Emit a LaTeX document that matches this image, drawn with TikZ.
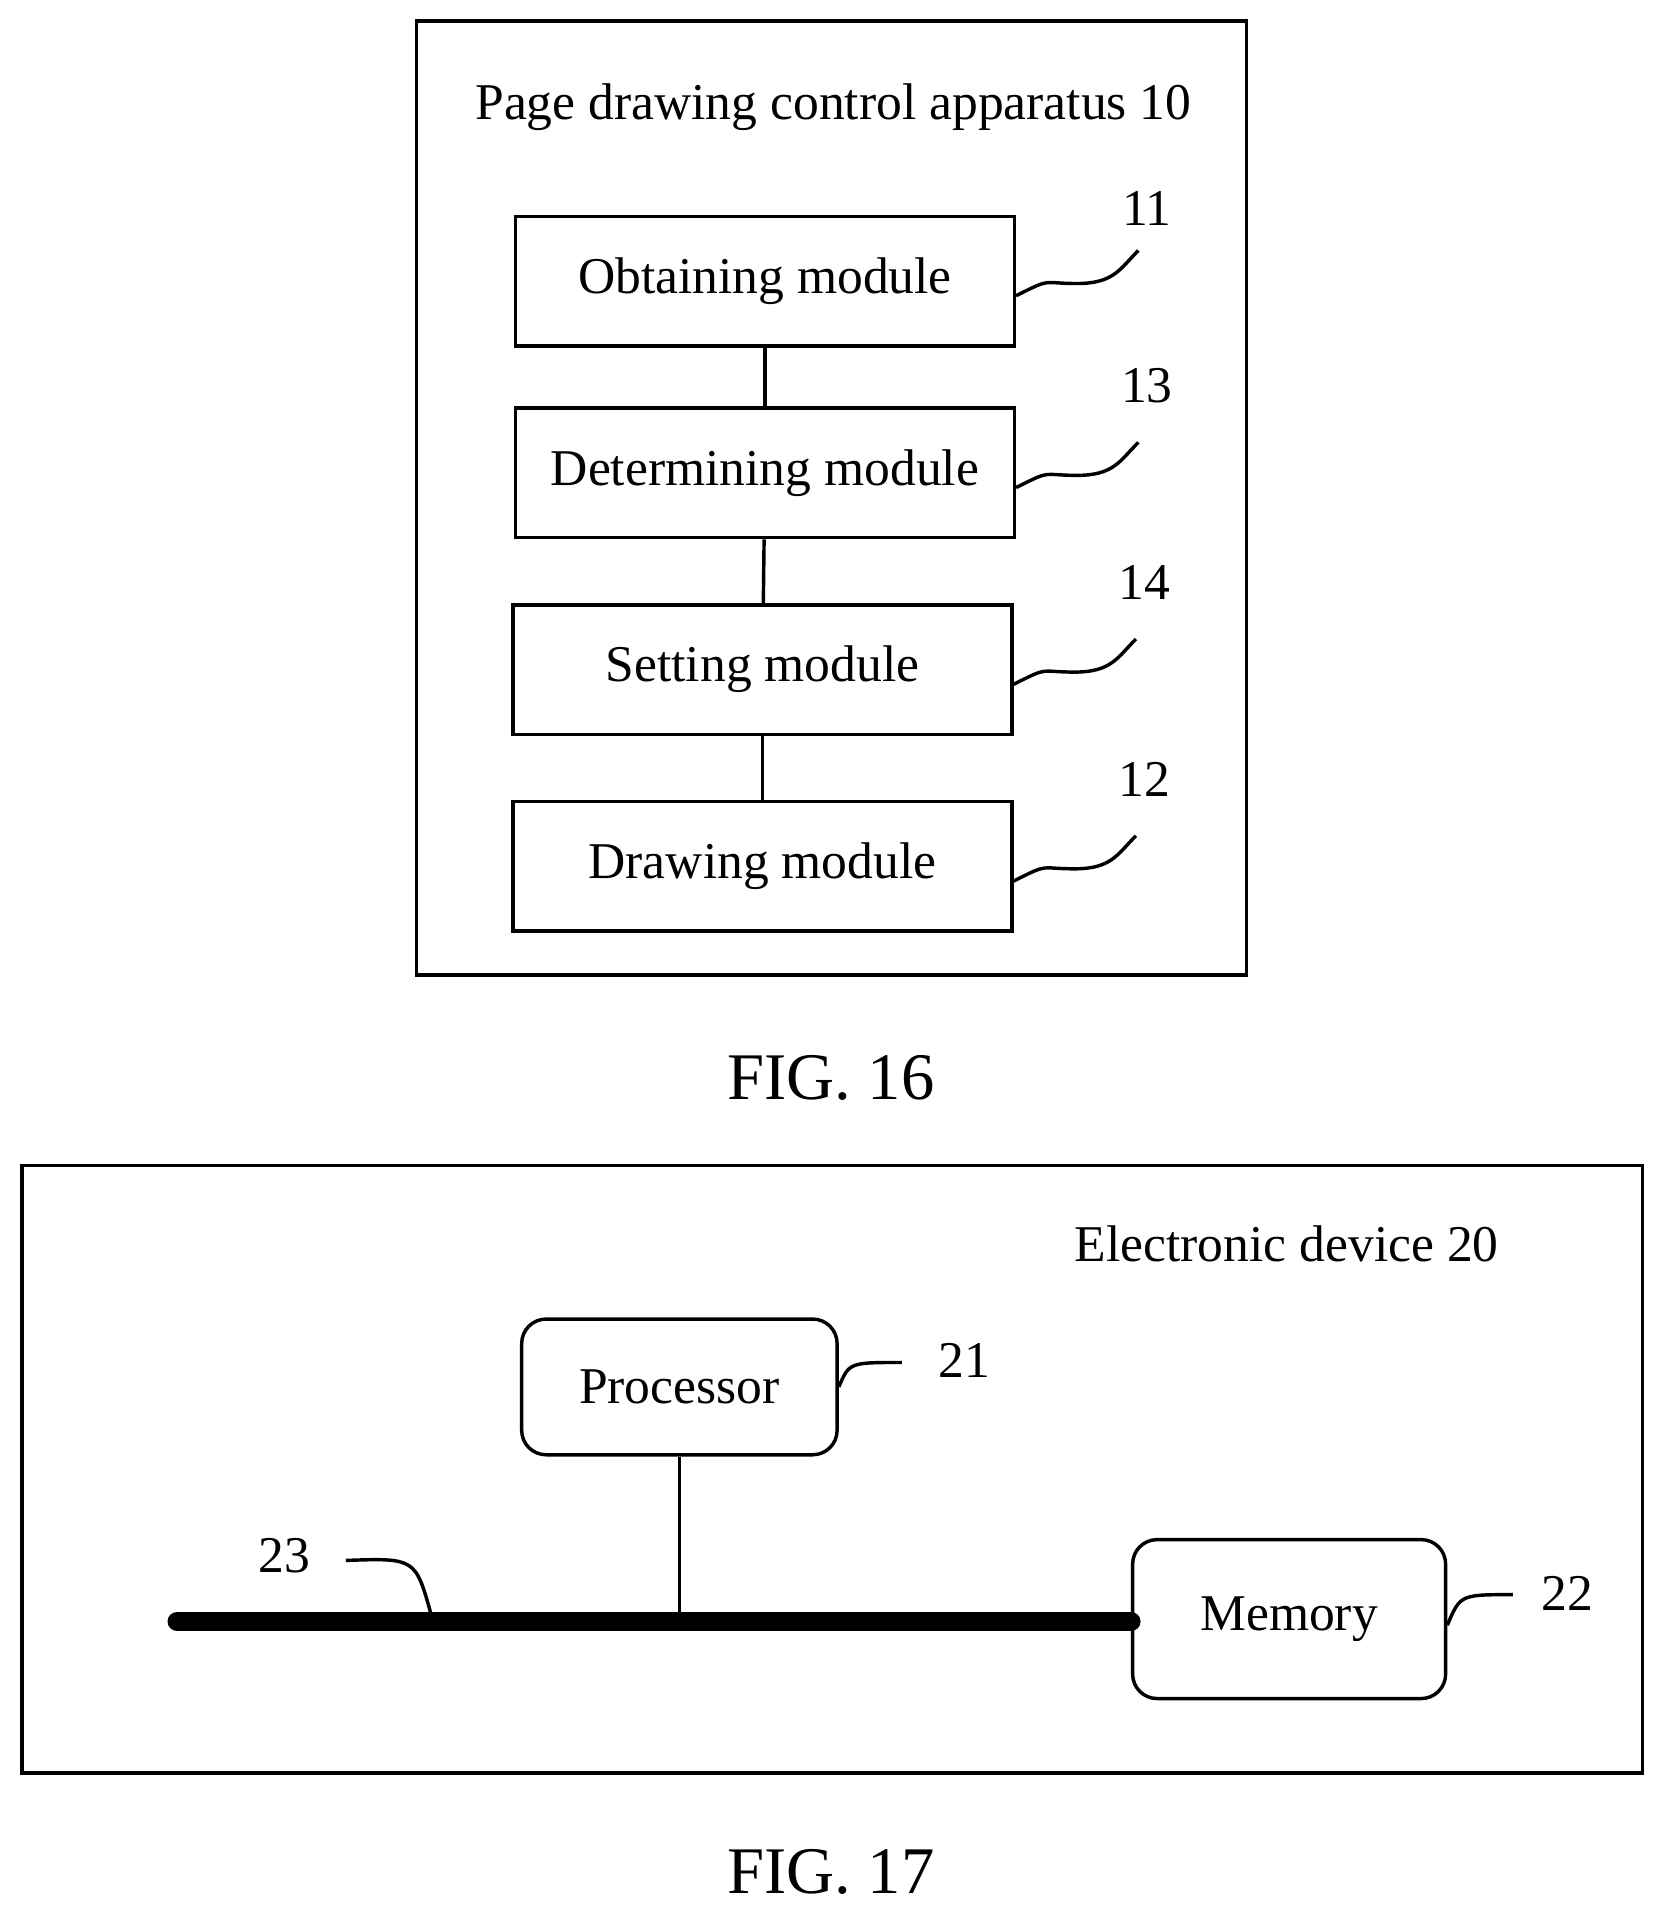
\documentclass[tikz,border=0pt]{standalone}
\usepackage{fontspec}
\setmainfont{Liberation Serif}
\usetikzlibrary{positioning}
\tikzset{
  module/.style={draw, minimum width=4.08cm, minimum height=1.06cm, font=\fontsize{12}{14}\selectfont},
  unit/.style={draw, rounded corners=0.2cm, font=\fontsize{12}{14}\selectfont},
  tag/.style={font=\fontsize{12}{14}\selectfont},
  caption/.style={font=\fontsize{15.5}{18}\selectfont},
}
\begin{document}
\begin{tikzpicture}[x=0.01cm, y=-0.01cm, thick]
            % Frame to ensure alignment:
            \useasboundingbox (0,0) rectangle (1362,1568);
            % FIG. 16
            \draw (341,17) rectangle (1020,798);
            \node[tag] (title) at (682,88) {Page drawing control apparatus 10};
            \node[module] (obtain) at (626,230) {Obtaining module};
            \node[module] (determine) at (626,387) {Determining module};
            \node[module] (set) at (624,548) {Setting module};
            \node[module] (draw) at (624,709) {Drawing module};
            \draw (obtain) -- (determine);
            \draw (determine) -- (set);
            \draw (set) -- (draw);
            \foreach \m/\n/\dy in {obtain/11/0.05, determine/13/0.17, set/14/0.17, draw/12/0.17}{
                \node[tag] (n\n) at ([xshift=1.07cm, yshift=\dy cm]\m.north east) {\n};
                \draw ([yshift=-0.12cm]\m.east) .. controls +(0.3cm,0.15cm) and +(-0.3cm,0cm) .. ++(0.5cm,0.1cm)
                      .. controls +(0.3cm,0cm) and +(-0.15cm,-0.15cm) .. ([xshift=1cm, yshift=0.25cm]\m.east);
            }
            \node[caption] (fig16) at (680,882) {FIG. 16};
            % FIG. 17
            \draw (18,954) rectangle (1344,1451);
            \node[tag] (device) at (1053,1018) {Electronic device 20};
            \node[unit, minimum width=2.58cm, minimum height=1.11cm] (proc) at (556,1135) {Processor};
            \node[unit, minimum width=2.56cm, minimum height=1.30cm] (mem) at (1055,1325) {Memory};
            \coordinate (busL) at (145,1327);
            \coordinate (busT) at (proc.south |- busL);
            \draw[line width=4.5pt, line cap=round] (busL) -- (mem.west |- busL);
            \draw (proc) -- (busT);
            \node[tag] (n21) at (789,1113) {21};
            \node[tag] (n22) at (1283,1304) {22};
            \node[tag] (n23) at (233,1273) {23};
            \draw (proc.east) .. controls (695,1115) .. (738,1115);
            \draw ([yshift=-0.05cm]mem.east) .. controls (1195,1305) .. (1238,1305);
            \draw (283,1277) .. controls (340,1275) .. (353,1322);
            \node[caption] (fig17) at (680,1532) {FIG. 17};
\end{tikzpicture}
\end{document}
